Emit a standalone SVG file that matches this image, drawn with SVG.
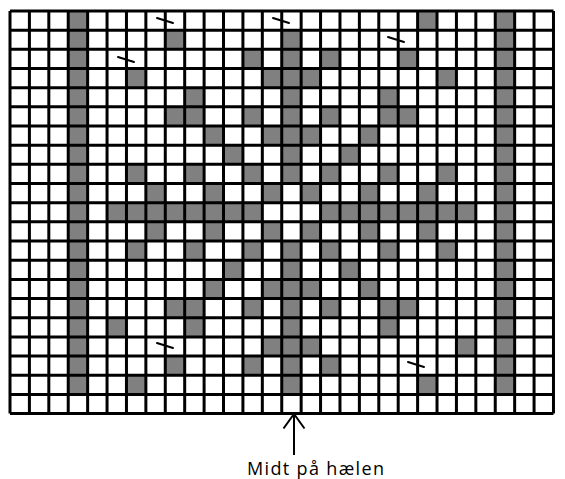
<svg xmlns="http://www.w3.org/2000/svg" width="565" height="479" viewBox="0 0 565 479">
<style>
.g{fill:#808080}
.grid{fill:none;stroke:#000;stroke-width:3}
.tick{stroke:#000;stroke-width:2;stroke-linecap:round}
.lbl{font-family:"Open Sans","Liberation Sans",Arial,sans-serif;font-size:18px;fill:#000}
</style>
<rect width="565" height="479" fill="#fff"/>
<g id="chart" transform="translate(10,11) scale(19.41,19.17)">
<rect class="g" x="3" y="0" width="1" height="20"/>
<rect class="g" x="25" y="0" width="1" height="20"/>
<rect class="g" x="21" y="0" width="1" height="1"/>
<rect class="g" x="8" y="1" width="1" height="1"/><rect class="g" x="14" y="1" width="1" height="1"/>
<rect class="g" x="12" y="2" width="1" height="1"/><rect class="g" x="14" y="2" width="1" height="1"/><rect class="g" x="16" y="2" width="1" height="1"/><rect class="g" x="20" y="2" width="1" height="1"/>
<rect class="g" x="6" y="3" width="1" height="1"/><rect class="g" x="13" y="3" width="3" height="1"/><rect class="g" x="22" y="3" width="1" height="1"/>
<rect class="g" x="9" y="4" width="1" height="1"/><rect class="g" x="14" y="4" width="1" height="1"/><rect class="g" x="19" y="4" width="1" height="1"/>
<rect class="g" x="8" y="5" width="2" height="1"/><rect class="g" x="12" y="5" width="1" height="1"/><rect class="g" x="14" y="5" width="1" height="1"/><rect class="g" x="16" y="5" width="1" height="1"/><rect class="g" x="19" y="5" width="2" height="1"/>
<rect class="g" x="10" y="6" width="1" height="1"/><rect class="g" x="13" y="6" width="3" height="1"/><rect class="g" x="18" y="6" width="1" height="1"/>
<rect class="g" x="11" y="7" width="1" height="1"/><rect class="g" x="14" y="7" width="1" height="1"/><rect class="g" x="17" y="7" width="1" height="1"/>
<rect class="g" x="6" y="8" width="1" height="1"/><rect class="g" x="9" y="8" width="1" height="1"/><rect class="g" x="12" y="8" width="1" height="1"/><rect class="g" x="14" y="8" width="1" height="1"/><rect class="g" x="16" y="8" width="1" height="1"/><rect class="g" x="19" y="8" width="1" height="1"/><rect class="g" x="22" y="8" width="1" height="1"/>
<rect class="g" x="7" y="9" width="1" height="1"/><rect class="g" x="10" y="9" width="1" height="1"/><rect class="g" x="13" y="9" width="1" height="1"/><rect class="g" x="15" y="9" width="1" height="1"/><rect class="g" x="18" y="9" width="1" height="1"/><rect class="g" x="21" y="9" width="1" height="1"/>
<rect class="g" x="5" y="10" width="8" height="1"/><rect class="g" x="16" y="10" width="8" height="1"/>
<rect class="g" x="7" y="11" width="1" height="1"/><rect class="g" x="10" y="11" width="1" height="1"/><rect class="g" x="13" y="11" width="1" height="1"/><rect class="g" x="15" y="11" width="1" height="1"/><rect class="g" x="18" y="11" width="1" height="1"/><rect class="g" x="21" y="11" width="1" height="1"/>
<rect class="g" x="6" y="12" width="1" height="1"/><rect class="g" x="9" y="12" width="1" height="1"/><rect class="g" x="12" y="12" width="1" height="1"/><rect class="g" x="14" y="12" width="1" height="1"/><rect class="g" x="16" y="12" width="1" height="1"/><rect class="g" x="19" y="12" width="1" height="1"/><rect class="g" x="22" y="12" width="1" height="1"/>
<rect class="g" x="11" y="13" width="1" height="1"/><rect class="g" x="14" y="13" width="1" height="1"/><rect class="g" x="17" y="13" width="1" height="1"/>
<rect class="g" x="10" y="14" width="1" height="1"/><rect class="g" x="13" y="14" width="3" height="1"/><rect class="g" x="18" y="14" width="1" height="1"/>
<rect class="g" x="8" y="15" width="2" height="1"/><rect class="g" x="12" y="15" width="1" height="1"/><rect class="g" x="14" y="15" width="1" height="1"/><rect class="g" x="16" y="15" width="1" height="1"/><rect class="g" x="19" y="15" width="2" height="1"/>
<rect class="g" x="5" y="16" width="1" height="1"/><rect class="g" x="9" y="16" width="1" height="1"/><rect class="g" x="14" y="16" width="1" height="1"/><rect class="g" x="19" y="16" width="1" height="1"/>
<rect class="g" x="13" y="17" width="3" height="1"/><rect class="g" x="23" y="17" width="1" height="1"/>
<rect class="g" x="8" y="18" width="1" height="1"/><rect class="g" x="12" y="18" width="1" height="1"/><rect class="g" x="14" y="18" width="1" height="1"/><rect class="g" x="16" y="18" width="1" height="1"/>
<rect class="g" x="6" y="19" width="1" height="1"/><rect class="g" x="14" y="19" width="1" height="1"/><rect class="g" x="21" y="19" width="1" height="1"/>
<path class="grid" vector-effect="non-scaling-stroke" d="M0 0V21M1 0V21M2 0V21M3 0V21M4 0V21M5 0V21M6 0V21M7 0V21M8 0V21M9 0V21M10 0V21M11 0V21M12 0V21M13 0V21M14 0V21M15 0V21M16 0V21M17 0V21M18 0V21M19 0V21M20 0V21M21 0V21M22 0V21M23 0V21M24 0V21M25 0V21M26 0V21M27 0V21M28 0V21M0 0H28M0 1H28M0 2H28M0 3H28M0 4H28M0 5H28M0 6H28M0 7H28M0 8H28M0 9H28M0 10H28M0 11H28M0 12H28M0 13H28M0 14H28M0 15H28M0 16H28M0 17H28M0 18H28M0 19H28M0 20H28M0 21H28"/>
</g>
<g id="ticks">
<line class="tick" x1="157" y1="18" x2="173" y2="23"/>
<line class="tick" x1="118" y1="57" x2="134" y2="62"/>
<line class="tick" x1="273" y1="18" x2="289" y2="23"/>
<line class="tick" x1="388" y1="37" x2="404" y2="42"/>
<line class="tick" x1="157" y1="343" x2="173" y2="348"/>
<line class="tick" x1="408" y1="362" x2="424" y2="367"/>
</g>
<g id="connectors">
<path d="M294 455V414M283.5 428.5L294 414L304.5 428.5" fill="none" stroke="#000" stroke-width="2"/>
</g>
<g id="label">
<text class="lbl" x="247" y="474.5" textLength="137" lengthAdjust="spacing">Midt på hælen</text>
</g>
</svg>
